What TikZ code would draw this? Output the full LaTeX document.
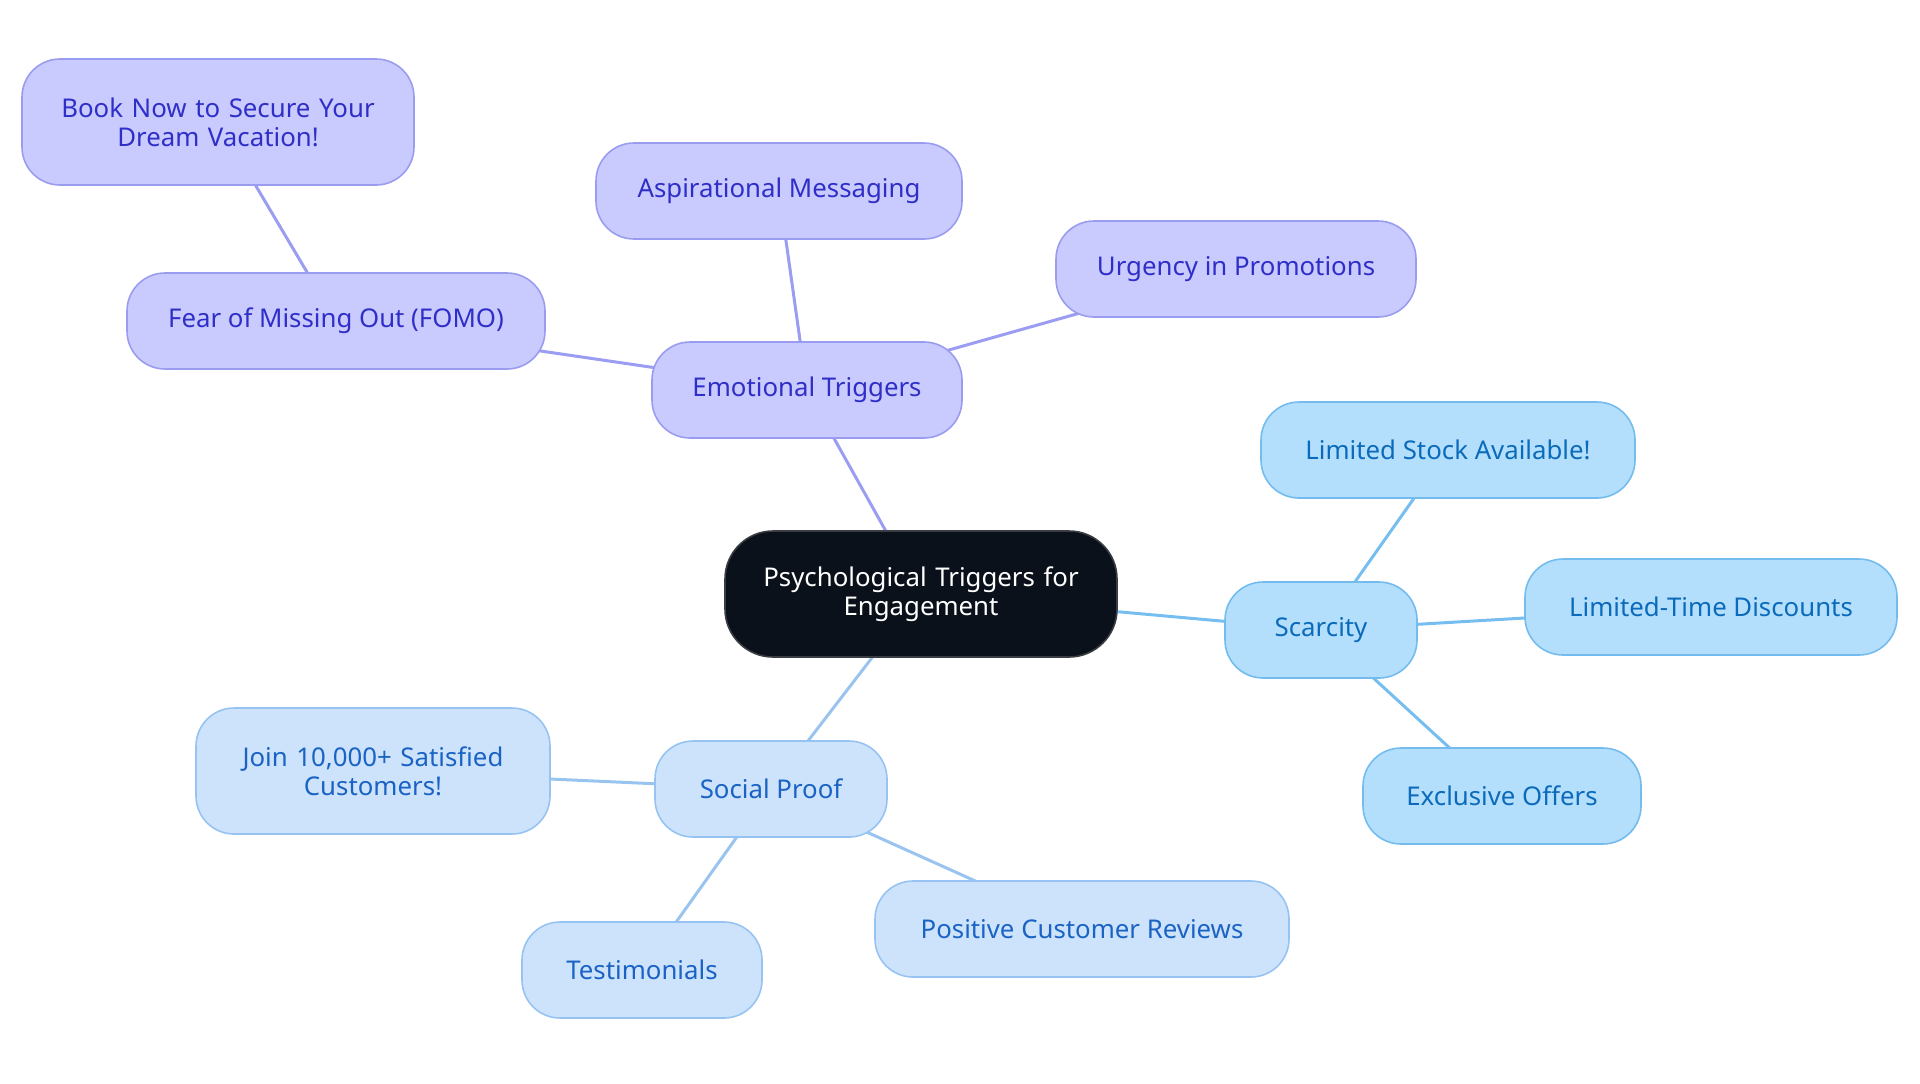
\documentclass[tikz,border=0pt]{standalone}
\usepackage{fontspec}
\setmainfont{Noto Sans}
\usetikzlibrary{backgrounds}
\begin{document}
\begin{tikzpicture}[x=0.5pt,y=-0.5pt,
  base/.style={rounded corners=19pt, line width=0.8pt, inner sep=0pt, align=center, font=\fontsize{12.9}{15}\selectfont, minimum height=48pt},
  purp/.style={base, fill=purpfill, draw=purpline, text=purptext},
  scar/.style={base, fill=scarfill, draw=scarline, text=scartext},
  soc/.style={base, fill=socfill, draw=socline, text=soctext},
  rootbox/.style={base, fill=rootfill, draw=rootline, text=white, minimum height=63pt, rounded corners=24pt},
  pe/.style={draw=purpedge, line width=1.5pt},
  se/.style={draw=scaredge, line width=1.5pt},
  oe/.style={draw=socedge, line width=1.5pt}]
\definecolor{purpfill}{HTML}{C9CAFE}
\definecolor{purpline}{HTML}{9A9CF0}
\definecolor{purptext}{HTML}{2F2FC8}
\definecolor{purpedge}{HTML}{9B9DF2}
\definecolor{scarfill}{HTML}{B3DFFD}
\definecolor{scarline}{HTML}{74BCEE}
\definecolor{scartext}{HTML}{0B6BBA}
\definecolor{scaredge}{HTML}{76BEF0}
\definecolor{socfill}{HTML}{CDE3FB}
\definecolor{socline}{HTML}{96C3F1}
\definecolor{soctext}{HTML}{1A63C4}
\definecolor{socedge}{HTML}{99C4F0}
\definecolor{rootfill}{HTML}{0B111A}
\definecolor{rootline}{HTML}{3A3D42}
\useasboundingbox (0,0) rectangle (1920,1083);

\node[rootbox, minimum width=196pt, text width=190pt] (root) at (921,594) {Psychological Triggers for\\[-0.5pt]Engagement};

\node[purp, minimum width=155pt] (emo) at (807,390) {Emotional Triggers};
\node[purp, minimum width=183pt] (asp) at (779,191) {Aspirational Messaging};
\node[purp, minimum width=180pt] (urg) at (1236,269) {Urgency in Promotions};
\node[purp, minimum width=209pt] (fomo) at (336,321) {Fear of Missing Out (FOMO)};
\node[purp, minimum width=196pt, minimum height=63pt, text width=190pt] (book) at (218,122) {Book Now to Secure Your\\[-0.5pt]Dream Vacation!};

\node[scar, minimum width=96pt] (scar) at (1321,630) {Scarcity};
\node[scar, minimum width=187pt] (stock) at (1448,450) {Limited Stock Available!};
\node[scar, minimum width=186pt] (disc) at (1711,607) {Limited-Time Discounts};
\node[scar, minimum width=139pt] (excl) at (1502,796) {Exclusive Offers};

\node[soc, minimum width=116pt] (soc) at (771,789) {Social Proof};
\node[soc, minimum width=177pt, minimum height=63pt, text width=170pt] (join) at (373,771) {Join 10,000+ Satisfied\\[-0.5pt]Customers!};
\node[soc, minimum width=120pt] (test) at (642,970) {Testimonials};
\node[soc, minimum width=207pt] (rev) at (1082,929) {Positive Customer Reviews};

\begin{scope}[on background layer]
\draw[pe] (root.center) -- (emo.center);
\draw[pe] (emo.center) -- (asp.center);
\draw[pe] (emo.center) -- (urg.center);
\draw[pe] (emo.center) -- (fomo.center);
\draw[pe] (fomo.center) -- (book.center);
\draw[se] (root.center) -- (scar.center);
\draw[se] (scar.center) -- (stock.center);
\draw[se] (scar.center) -- (disc.center);
\draw[se] (scar.center) -- (excl.center);
\draw[oe] (root.center) -- (soc.center);
\draw[oe] (soc.center) -- (join.center);
\draw[oe] (soc.center) -- (test.center);
\draw[oe] (soc.center) -- (rev.center);
\end{scope}
\end{tikzpicture}
\end{document}
